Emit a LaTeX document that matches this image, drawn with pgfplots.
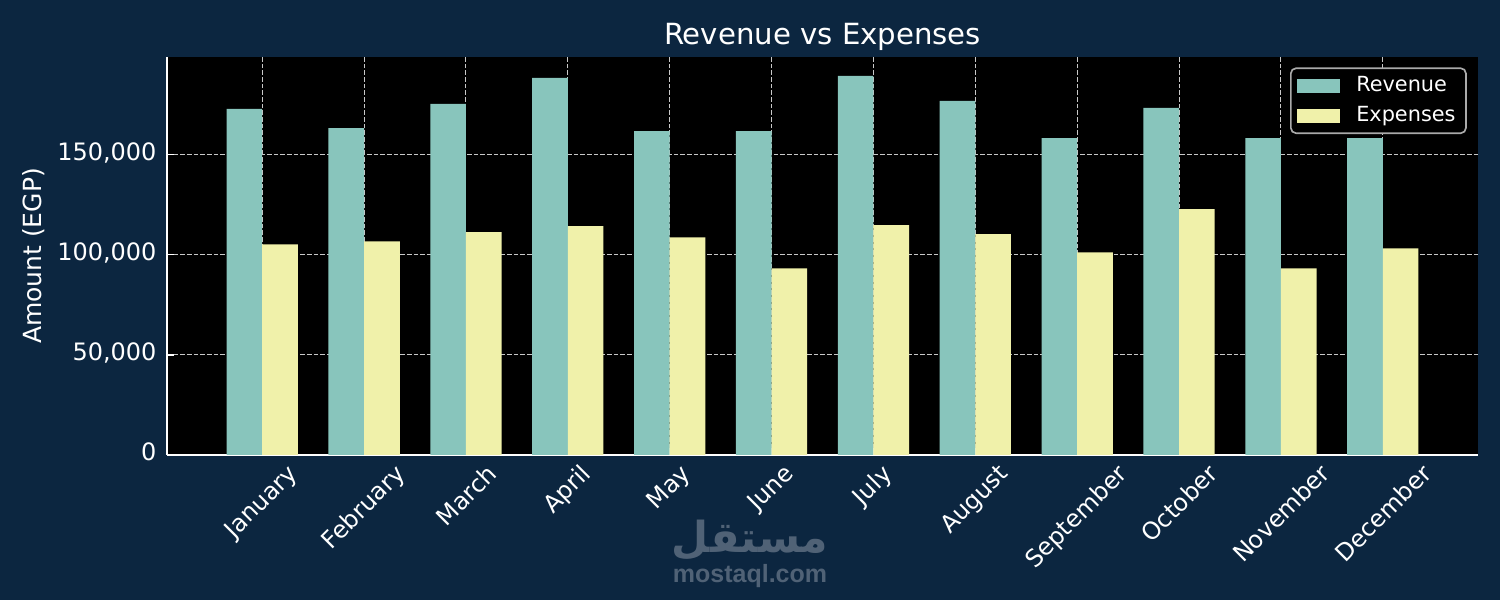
\documentclass[border=0pt]{standalone}
\usepackage{graphicx}
\usepackage{fontspec}
\setmainfont{DejaVu Sans}
\newfontfamily\arabicfont[Script=Arabic]{DejaVu Sans}
\newfontfamily\wmfont{Liberation Sans}
\TeXXeTstate=1
\usepackage{pgfplots}
\usepackage{pgfplotstable}
\pgfplotsset{compat=1.18}
\definecolor{bgnavy}{RGB}{12,38,64}
\definecolor{teal}{RGB}{136,197,188}
\definecolor{yel}{RGB}{240,241,170}
\definecolor{gridc}{RGB}{200,200,200}
\definecolor{legframe}{RGB}{170,170,170}
\definecolor{wm}{RGB}{80,98,118}
\pgfplotstableread{
idx rev exp
0 172650 105150
1 163150 106650
2 175150 111150
3 188150 114150
4 161650 108650
5 161650 93150
6 189150 114650
7 176650 110150
8 158150 101150
9 173150 122650
10 158150 93150
11 158150 103150
}\datatable
\begin{document}
\begin{tikzpicture}
\path[use as bounding box, fill=bgnavy] (-80.16pt,-69.6pt) rectangle (639.84pt,218.4pt);
\begin{axis}[
  at={(0,0)}, anchor=south west,
  scale only axis, width=629.28pt, height=191.04pt,
  axis background/.style={fill=black},
  axis x line*=bottom, axis y line*=left,
  axis line style={white, line width=1pt, -},
  xmin=-0.935, xmax=11.935, ymin=0, ymax=198600,
  enlargelimits=false,
  scaled y ticks=false,
  ybar, bar width=0.35, bar shift=0pt,
  xtick={0,1,2,3,4,5,6,7,8,9,10,11},
  xticklabels={\rotatebox{45}{January},\rotatebox{45}{February},\rotatebox{45}{March},\rotatebox{45}{April},\rotatebox{45}{May},\rotatebox{45}{June},\rotatebox{45}{July},\rotatebox{45}{August},\rotatebox{45}{September},\rotatebox{45}{October},\rotatebox{45}{November},\rotatebox{45}{December}},
  ytick={0,50000,100000,150000},
  yticklabels={0,{50,000},{100,000},{150,000}},
  tick align=inside,
  major tick length=3.4pt,
  tick style={white, line width=0.8pt},
  xticklabel style={anchor=north, inner sep=0pt, yshift=-3.5pt, text=white, font=\fontsize{11.5}{13}\selectfont},
  yticklabel style={anchor=mid east, inner sep=0pt, xshift=-4.9pt, text=white, font=\fontsize{11.5}{13}\selectfont},
  grid=major,
  major grid style={gridc, line width=0.5pt, dash pattern=on 2.2pt off 1pt},
  title={Revenue vs Expenses},
  every axis title/.style={at={(axis description cs:0.5,1)}, anchor=base, yshift=6pt, inner sep=0pt, text=white, font=\fontsize{14}{17}\selectfont},
  ylabel={Amount (EGP)},
  every axis y label/.style={at={(axis description cs:-0.1014,0.5)}, rotate=90, anchor=center, text=white, font=\fontsize{12}{14}\selectfont},
  legend cell align=left,
  legend image code/.code={\fill[#1, sharp corners] (0pt,-3.4pt) rectangle (20.6pt,3.4pt); \path (26.4pt,0pt);},
  legend style={at={(rel axis cs:1,1)}, anchor=north east, xshift=-5.4pt, yshift=-5pt,
    draw=legframe, line width=0.8pt, rounded corners=2.5pt, fill=black, text=white,
    font=\fontsize{10}{12}\selectfont, inner xsep=3pt, inner ysep=2pt, row sep=1.6pt},
]
\addplot[fill=teal, draw=none] table[x expr=\thisrow{idx}-0.175, y=rev] {\datatable};
\addlegendentry{Revenue}
\addplot[fill=yel, draw=none] table[x expr=\thisrow{idx}+0.175, y=exp] {\datatable};
\addlegendentry{Expenses}
\end{axis}
\node[text=wm, anchor=center] at (279.84pt,-40.8pt) {\resizebox{75pt}{!}{\arabicfont\bfseries\beginR مستقل\endR}};
\node[text=wm, anchor=base, font=\wmfont\bfseries\fontsize{12}{14}\selectfont] at (279.84pt,-61.44pt) {mostaql.com};
\end{tikzpicture}
\end{document}
